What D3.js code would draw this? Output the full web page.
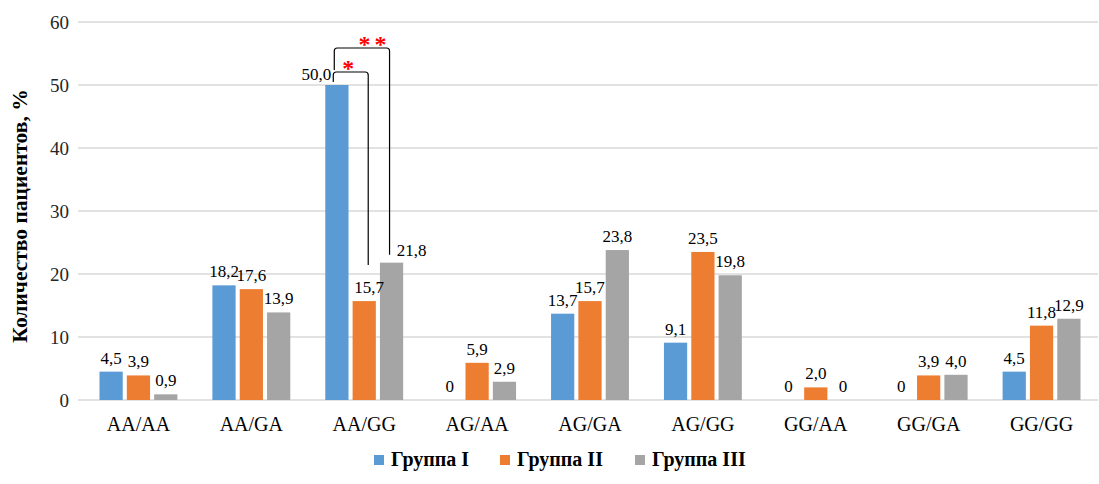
<!DOCTYPE html>
<html>
<head>
<meta charset="utf-8">
<script src="https://cdn.jsdelivr.net/npm/d3@7"></script>
<style>
  body { margin: 0; background: #fff; }
  svg { display: block; }
  svg text { font-family: "Liberation Serif", "Times New Roman", serif; }
</style>
</head>
<body>
<svg id="chart"></svg>
<script>
const categories = ['AA/AA', 'AA/GA', 'AA/GG', 'AG/AA', 'AG/GA', 'AG/GG', 'GG/AA', 'GG/GA', 'GG/GG'];
const seriesNames = ['Группа I', 'Группа II', 'Группа III'];
const group1 = [4.5, 18.2, 50.0, 0, 13.7, 9.1, 0, 0, 4.5];
const group2 = [3.9, 17.6, 15.7, 5.9, 15.7, 23.5, 2.0, 3.9, 11.8];
const group3 = [0.9, 13.9, 21.8, 2.9, 23.8, 19.8, 0, 4.0, 12.9];
const yTicks = [0, 10, 20, 30, 40, 50, 60];
const yTitle = 'Количество пациентов, %';

const colors = ['#5B9BD5', '#ED7D31', '#A5A5A5'];
const serif = 'Liberation Serif';
const width = 1099;
const height = 484;
const margin = { top: 22, right: 1, bottom: 84, left: 82 };

const svg = d3.select('#chart')
  .attr('width', width)
  .attr('height', height)
  .attr('font-family', serif);

const x0 = d3.scaleBand()
  .domain(categories)
  .range([margin.left, width - margin.right])
  .paddingInner(0.31)
  .paddingOuter(0.155);

const x1 = d3.scaleBand()
  .domain(seriesNames)
  .range([0, x0.bandwidth()])
  .paddingInner(0.15);

const y = d3.scaleLinear()
  .domain([0, 60])
  .range([height - margin.bottom, margin.top]);

// grid lines
svg.append('g')
  .selectAll('line')
  .data(yTicks)
  .join('line')
  .attr('x1', margin.left - 4)
  .attr('x2', width - margin.right)
  .attr('y1', (d) => y(d))
  .attr('y2', (d) => y(d))
  .attr('stroke', '#d9d9d9')
  .attr('stroke-width', 1.3);

// y axis labels
const yAxis = svg.append('g')
  .attr('transform', `translate(${margin.left - 10},0)`)
  .call(d3.axisLeft(y).tickValues(yTicks).tickSize(0).tickFormat((d) => d));
yAxis.select('.domain').remove();
yAxis.attr('font-family', serif);
yAxis.selectAll('text')
  .attr('font-size', 19)
  .attr('fill', '#262626');

// x axis labels
const xAxis = svg.append('g')
  .attr('transform', `translate(0,${y(0) + 14})`)
  .call(d3.axisBottom(x0).tickSize(0));
xAxis.select('.domain').remove();
xAxis.attr('font-family', serif);
xAxis.selectAll('text')
  .attr('font-size', 20)
  .attr('fill', '#000')
  .attr('dy', '0.71em');

svg.append('text')
  .attr('transform', 'translate(27,216) rotate(-90)')
  .attr('text-anchor', 'middle')
  .attr('font-size', 21.5)
  .attr('font-weight', 'bold')
  .text(yTitle);

const table = categories.map((c, i) => ({
  cat: c,
  values: [group1[i], group2[i], group3[i]].map((v, k) => ({ cat: c, s: seriesNames[k], k, v })),
}));

const fmt = (v) => (v === 0 ? '0' : v.toFixed(1).replace('.', ','));

// hand adjustments of some value labels (as in the source picture)
const labelShift = {
  'AA/GG|Группа I': { dx: 6, anchor: 'end', dy: 3 },
  'AA/GG|Группа II': { dx: 5, anchor: 'middle', dy: 0 },
  'AA/GG|Группа III': { dx: 20, anchor: 'middle', dy: 1 },
};

const groups = svg.append('g')
  .selectAll('g')
  .data(table)
  .join('g')
  .attr('transform', (d) => `translate(${x0(d.cat)},0)`);

groups.selectAll('rect')
  .data((d) => d.values.filter((e) => e.v > 0))
  .join('rect')
  .attr('x', (d) => x1(d.s))
  .attr('y', (d) => y(d.v))
  .attr('width', x1.bandwidth())
  .attr('height', (d) => y(0) - y(d.v))
  .attr('fill', (d) => colors[d.k]);

groups.selectAll('text')
  .data((d) => d.values)
  .join('text')
  .each(function (d) {
    const sh = labelShift[`${d.cat}|${d.s}`] || { dx: 0, anchor: 'middle', dy: 0 };
    const xx = sh.anchor === 'end' ? x1(d.s) + sh.dx : x1(d.s) + x1.bandwidth() / 2 + sh.dx;
    d3.select(this)
      .attr('x', xx)
      .attr('y', y(d.v) - 8 + sh.dy)
      .attr('text-anchor', sh.anchor);
  })
  .attr('font-size', 17)
  .attr('fill', '#000')
  .text((d) => fmt(d.v));

// significance brackets on AA/GG
const cat = 'AA/GG';
const ci = categories.indexOf(cat);
const bx = (s) => x0(cat) + x1(s) + x1.bandwidth() / 2;
const r = 3;
const bracket = (xl, yl, yt, xr, yr) => `M${xl},${yl} V${yt + r} Q${xl},${yt} ${xl + r},${yt} H${xr - r} Q${xr},${yt} ${xr},${yt + r} V${yr}`;

const inner = {
  xl: x0(cat) + x1('Группа I') + 8,
  yl: y(group1[ci]) - 3,
  yt: y(group1[ci]) - 13,
  xr: bx('Группа II') + 4,
  yr: y(group2[ci]) - 36,
};
const outer = {
  xl: x0(cat) + x1('Группа I') + 9,
  yl: y(group1[ci]) - 15,
  yt: y(group1[ci]) - 37,
  xr: bx('Группа III') - 2,
  yr: y(group3[ci]) - 8,
};

[inner, outer].forEach((b) => {
  svg.append('path')
    .attr('d', bracket(b.xl, b.yl, b.yt, b.xr, b.yr))
    .attr('fill', 'none')
    .attr('stroke', '#000')
    .attr('stroke-width', 1.2);
});

svg.append('text')
  .attr('x', inner.xl + 15)
  .attr('y', inner.yt + 4)
  .attr('text-anchor', 'middle')
  .attr('font-size', 24)
  .attr('font-weight', 'bold')
  .attr('fill', '#ff0000')
  .text('*');

svg.append('text')
  .attr('x', outer.xr - 15)
  .attr('y', outer.yt + 4)
  .attr('text-anchor', 'middle')
  .attr('font-size', 24)
  .attr('font-weight', 'bold')
  .attr('letter-spacing', 4)
  .attr('fill', '#ff0000')
  .text('**');

// legend
const legend = svg.append('g').attr('transform', `translate(0,${height - 18})`);
const legendX = [374, 500, 635];
seriesNames.forEach((s, k) => {
  legend.append('rect')
    .attr('x', legendX[k])
    .attr('y', -11)
    .attr('width', 10)
    .attr('height', 10)
    .attr('fill', colors[k]);
  legend.append('text')
    .attr('x', legendX[k] + 17)
    .attr('y', 0)
    .attr('font-size', 20)
    .attr('font-weight', 'bold')
    .text(s);
});
</script>
</body>
</html>
